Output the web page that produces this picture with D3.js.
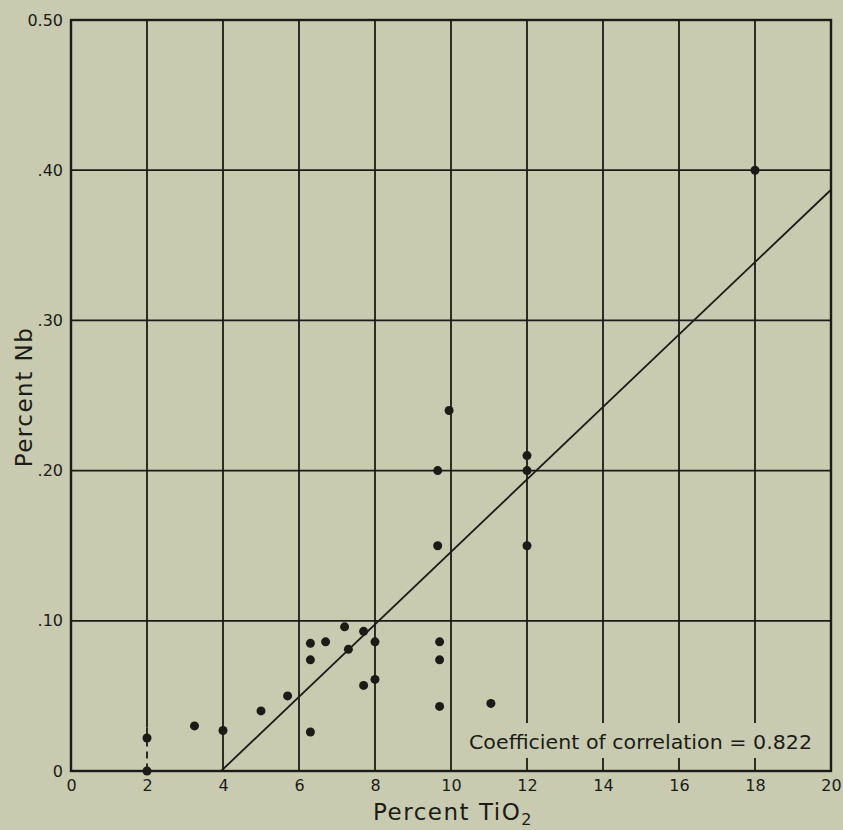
<!DOCTYPE html>
<html>
<head>
<meta charset="utf-8">
<script src="https://cdn.jsdelivr.net/npm/d3@7"></script>
<style>
  body { margin: 0; background: #c9cbb0; }
  svg { display: block; }
</style>
</head>
<body>
<svg id="chart" width="843" height="830"></svg>
<script>
// TiO2 (%) vs Nb (%) readings
var tio2 = [2, 2, 3.25, 4, 5, 5.7, 6.3, 6.7, 6.3, 7.2, 7.7, 7.3, 8, 7.7, 8, 6.3,
            9.7, 9.7, 9.7, 11.05, 9.95, 9.65, 9.65, 12, 12, 12, 18];
var nb = [0.022, 0, 0.030, 0.027, 0.040, 0.050, 0.085, 0.086, 0.074, 0.096, 0.093, 0.081,
          0.086, 0.057, 0.061, 0.026, 0.086, 0.074, 0.043, 0.045, 0.24, 0.20, 0.15,
          0.21, 0.20, 0.15, 0.40];

// fitted line end points
var fitX = [3.95, 20];
var fitY = [0, 0.387];

var xTicks = [0, 2, 4, 6, 8, 10, 12, 14, 16, 18, 20];
var yTicks = [0, 0.1, 0.2, 0.3, 0.4, 0.5];
var yTickLabels = ["0", ".10", ".20", ".30", ".40", "0.50"];

var bg = "#c9cbb0";
var ink = "#1b1b17";

var margin = { left: 71, top: 20, right: 12, bottom: 59 };
var W = 843, H = 830;

var svg = d3.select("#chart");
svg.append("rect").attr("width", W).attr("height", H).attr("fill", bg);

var x = d3.scaleLinear().domain([0, 20]).range([margin.left, W - margin.right]);
var y = d3.scaleLinear().domain([0, 0.5]).range([H - margin.bottom, margin.top]);

// grid
var grid = svg.append("g").attr("stroke", ink).attr("stroke-width", 1.8);
grid.selectAll(".vx")
    .data(xTicks.filter(d => d > 0 && d < 20))
    .enter().append("line")
    .attr("x1", d => x(d)).attr("x2", d => x(d))
    .attr("y1", y(0.5))
    .attr("y2", d => d == 2 ? y(0.029) : y(0));
// the broken bit of the x = 2 line
grid.append("line")
    .attr("x1", x(2)).attr("x2", x(2))
    .attr("y1", y(0.029)).attr("y2", y(0))
    .attr("stroke-dasharray", "7,5");
grid.selectAll(".hy")
    .data(yTicks.filter(d => d > 0 && d < 0.5))
    .enter().append("line")
    .attr("x1", x(0)).attr("x2", x(20))
    .attr("y1", d => y(d)).attr("y2", d => y(d));

// gap in the grid behind the note
svg.append("rect")
    .attr("x", 460).attr("y", 723)
    .attr("width", x(20) - 466).attr("height", 35)
    .attr("fill", bg);

// frame
svg.append("rect")
    .attr("x", x(0)).attr("y", y(0.5))
    .attr("width", x(20) - x(0)).attr("height", y(0) - y(0.5))
    .attr("fill", "none")
    .attr("stroke", ink)
    .attr("stroke-width", 2.4);

// regression line
svg.append("line")
    .attr("x1", x(fitX[0])).attr("y1", y(fitY[0]))
    .attr("x2", x(fitX[1])).attr("y2", y(fitY[1]))
    .attr("stroke", ink)
    .attr("stroke-width", 1.8);

// points
svg.selectAll(".pt")
    .data(d3.range(tio2.length))
    .enter().append("circle")
    .attr("cx", i => x(tio2[i]))
    .attr("cy", i => y(nb[i]))
    .attr("r", 4.5)
    .attr("fill", ink);

// axes (labels only)
var xAxis = svg.append("g")
    .attr("transform", "translate(0," + y(0) + ")")
    .call(d3.axisBottom(x).tickValues(xTicks).tickFormat(d3.format("d"))
        .tickSize(0).tickPadding(9));
xAxis.select(".domain").remove();
xAxis.selectAll("text")
    .attr("font-family", "DejaVu Sans, sans-serif")
    .attr("font-size", 16)
    .attr("fill", ink);

var yAxis = svg.append("g")
    .attr("transform", "translate(" + x(0) + ",0)")
    .call(d3.axisLeft(y).tickValues(yTicks).tickFormat((d, i) => yTickLabels[i])
        .tickSize(0).tickPadding(8));
yAxis.select(".domain").remove();
yAxis.selectAll("text")
    .attr("font-family", "DejaVu Sans, sans-serif")
    .attr("font-size", 16)
    .attr("fill", ink);

// axis titles
var xt = svg.append("text")
    .attr("x", x(10) + 2)
    .attr("y", 820)
    .attr("text-anchor", "middle")
    .attr("font-family", "DejaVu Sans, sans-serif")
    .attr("font-size", 23)
    .attr("letter-spacing", 1.5)
    .attr("fill", ink);
xt.append("tspan").text("Percent TiO");
xt.append("tspan").attr("font-size", 16).attr("dy", 5).text("2");

svg.append("text")
    .attr("transform", "translate(32," + 397 + ") rotate(-90)")
    .attr("text-anchor", "middle")
    .attr("font-family", "DejaVu Sans, sans-serif")
    .attr("font-size", 23)
    .attr("letter-spacing", 1.5)
    .attr("fill", ink)
    .text("Percent Nb");

// correlation note
svg.append("text")
    .attr("x", 469)
    .attr("y", 749)
    .attr("font-family", "DejaVu Sans, sans-serif")
    .attr("font-size", 19)
    .attr("textLength", 343)
    .attr("lengthAdjust", "spacingAndGlyphs")
    .attr("fill", ink)
    .text("Coefficient of correlation = 0.822");
</script>
</body>
</html>
